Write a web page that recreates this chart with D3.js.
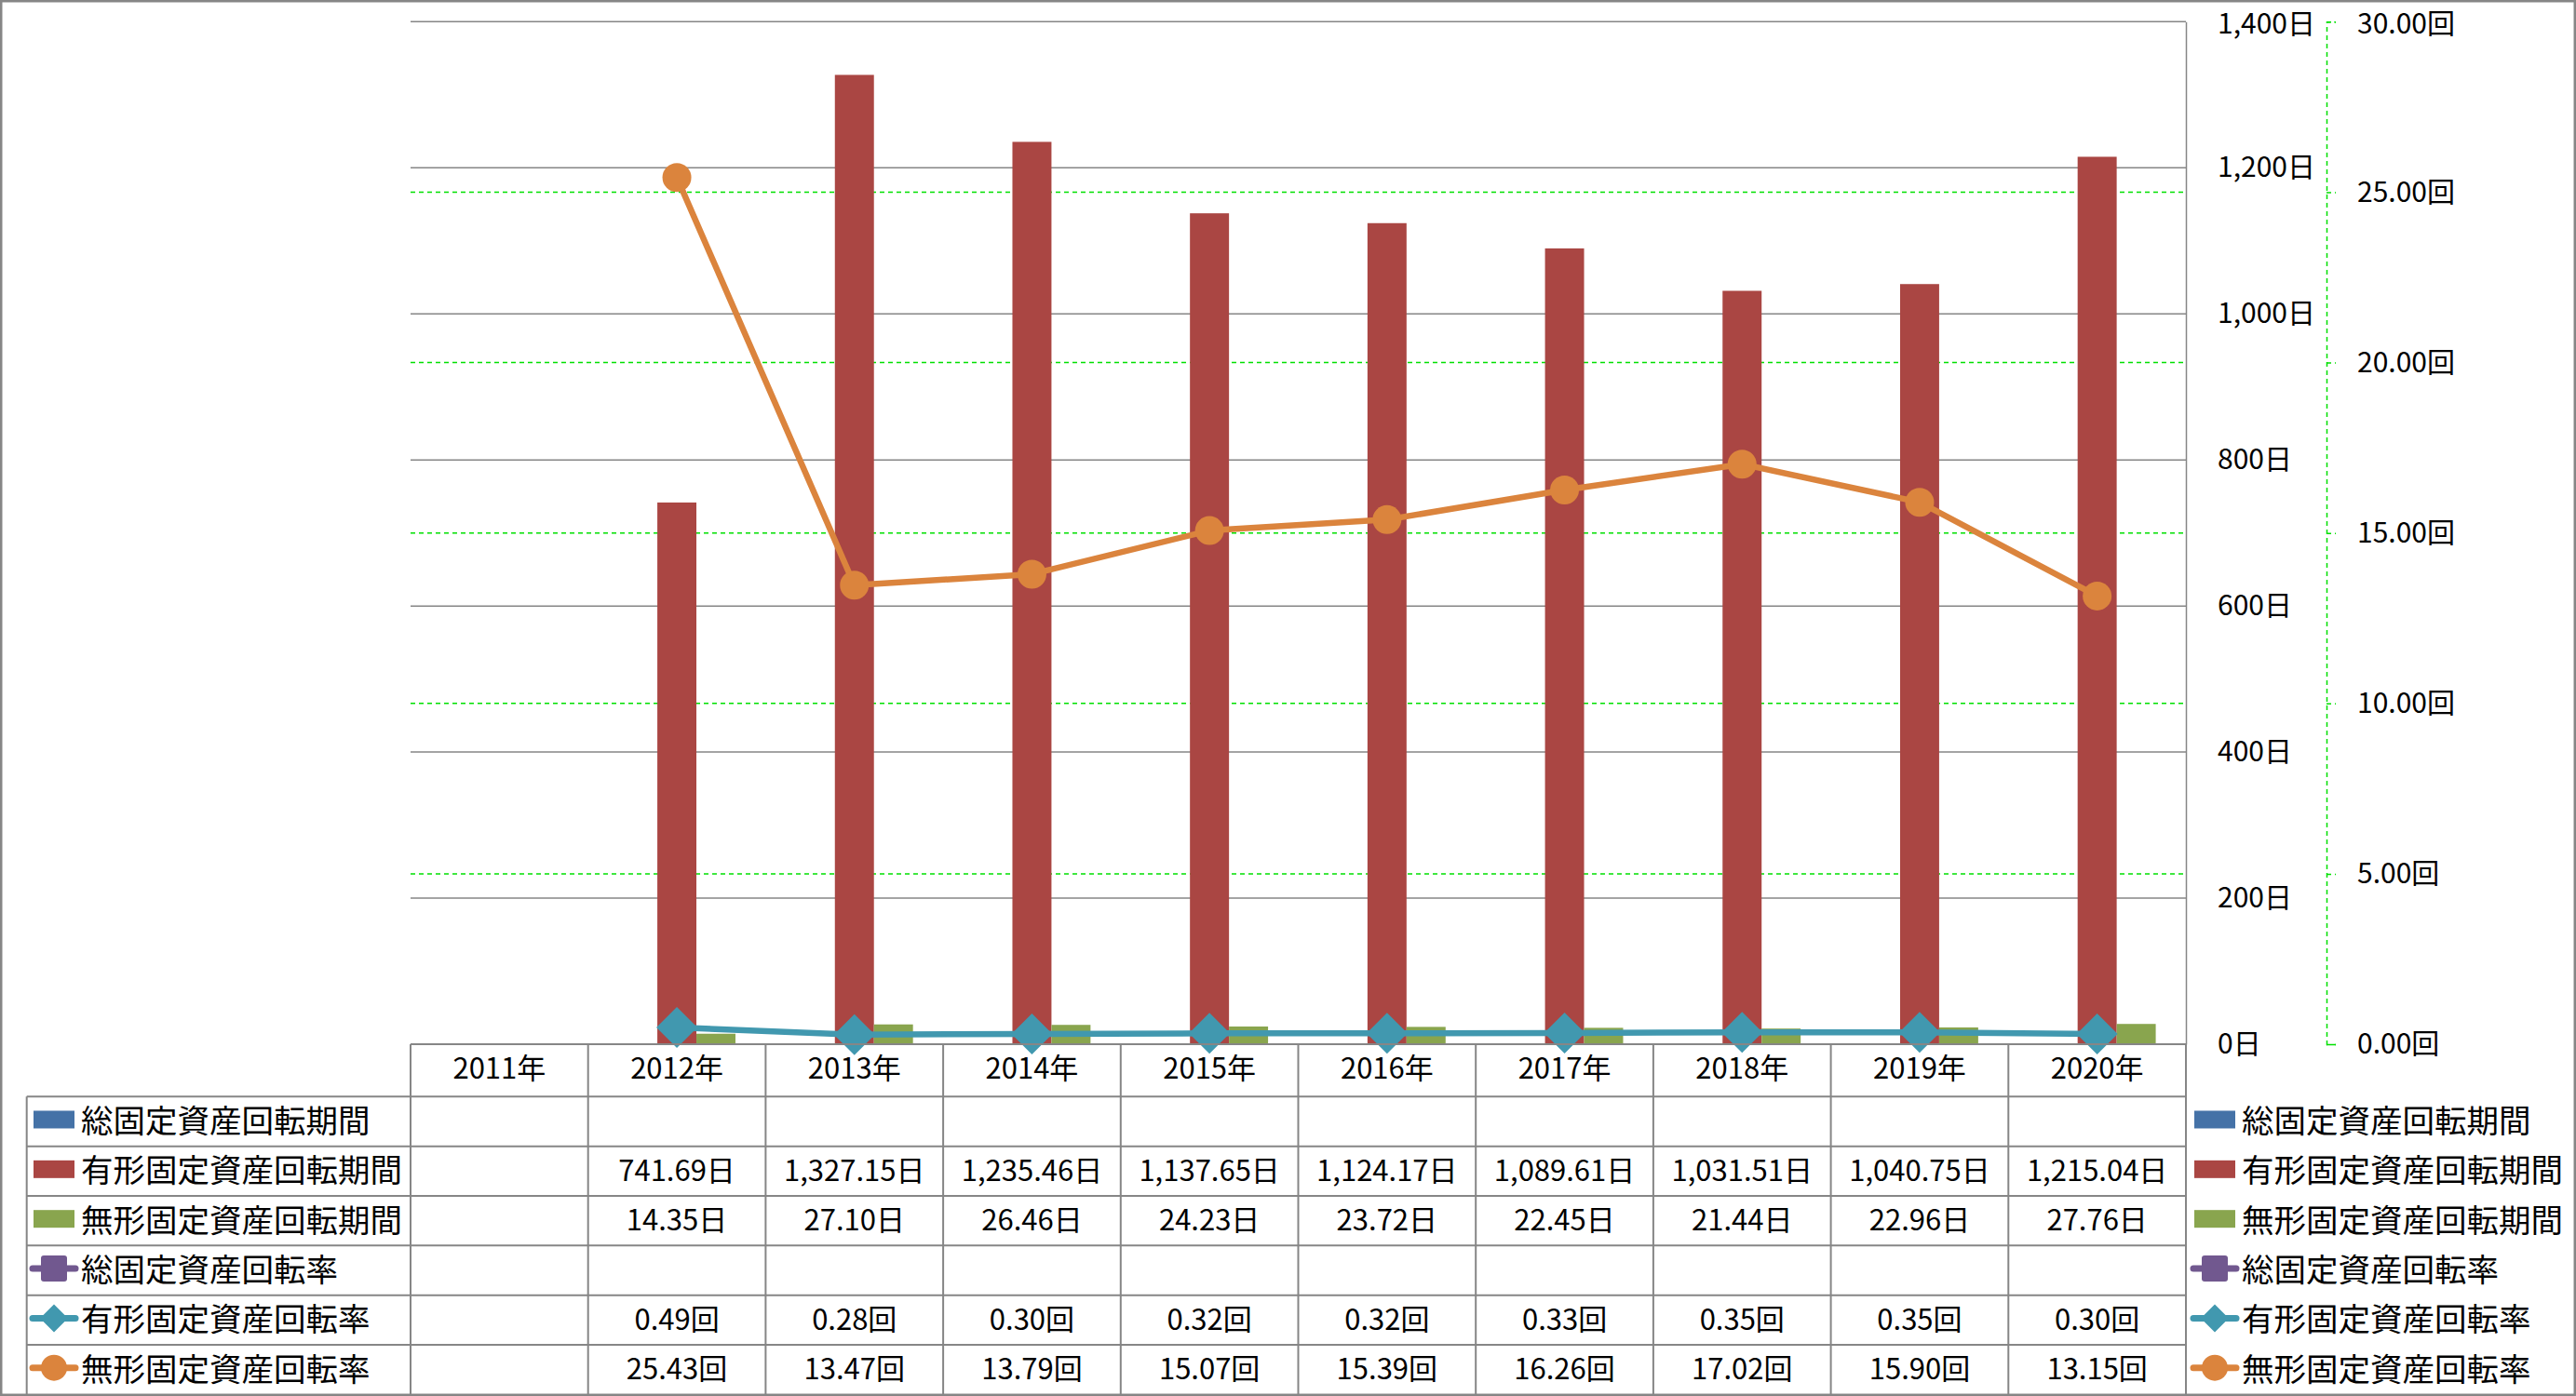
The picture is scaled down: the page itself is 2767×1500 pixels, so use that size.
<!DOCTYPE html>
<html>
<head>
<meta charset="utf-8">
<script src="https://cdn.jsdelivr.net/npm/d3@7"></script>
<style>
  html, body { margin: 0; padding: 0; background: #fff; }
  svg { display: block; }
  text { font-family: "Noto Sans CJK JP", "Noto Sans", sans-serif; fill: #000; }
</style>
</head>
<body>
<svg id="chart" width="2767" height="1500"></svg>
<script>
// ---------- data ----------
const years = ["2011年","2012年","2013年","2014年","2015年","2016年","2017年","2018年","2019年","2020年"];
const totalPeriod      = [null,null,null,null,null,null,null,null,null,null];
const tangiblePeriod   = [null,741.69,1327.15,1235.46,1137.65,1124.17,1089.61,1031.51,1040.75,1215.04];
const intangiblePeriod = [null,14.35,27.10,26.46,24.23,23.72,22.45,21.44,22.96,27.76];
const totalRate        = [null,null,null,null,null,null,null,null,null,null];
const tangibleRate     = [null,0.49,0.28,0.30,0.32,0.32,0.33,0.35,0.35,0.30];
const intangibleRate   = [null,25.43,13.47,13.79,15.07,15.39,16.26,17.02,15.90,13.15];
const seriesNames = ["総固定資産回転期間","有形固定資産回転期間","無形固定資産回転期間","総固定資産回転率","有形固定資産回転率","無形固定資産回転率"];
const primaryTicks = [0,200,400,600,800,1000,1200,1400];
const secondaryTicks = [0,5,10,15,20,25,30];

// ---------- layout ----------
const svg = d3.select("#chart");
const W = 2767, H = 1500;
const plotL = 441, plotR = 2348, plotT = 23.3, plotB = 1122;
const headerH = 56.3, rowH = 53.35, tableL = 28.7;
const gridGray = "#868686";
const textShift = -3;

const colors = ["#4572A7","#AA4643","#89A54E","#71588F","#4198AF","#DB843D"];

const x = d3.scaleBand().domain(years).range([plotL, plotR]).padding(0);
const yL = d3.scaleLinear().domain([0,1400]).range([plotB, plotT]);
const yR = d3.scaleLinear().domain([0,30]).range([plotB, plotT]);

const barSeries = [
  {name: seriesNames[0], values: totalPeriod, color: colors[0]},
  {name: seriesNames[1], values: tangiblePeriod, color: colors[1]},
  {name: seriesNames[2], values: intangiblePeriod, color: colors[2]}
];
const lineSeries = [
  {name: seriesNames[3], values: totalRate, color: colors[3], marker: "square"},
  {name: seriesNames[4], values: tangibleRate, color: colors[4], marker: "diamond"},
  {name: seriesNames[5], values: intangibleRate, color: colors[5], marker: "circle"}
];

const groupW = x.bandwidth() * 0.66;
const xs = d3.scaleBand().domain([0,1,2]).range([0, groupW]).padding(0);

// ---------- gridlines ----------
svg.append("g").selectAll("line.gg").data(secondaryTicks.filter(d => d > 0 && d < 30)).join("line")
  .attr("x1", plotL).attr("x2", plotR)
  .attr("y1", d => yR(d)).attr("y2", d => yR(d))
  .attr("stroke", "#00E000").attr("stroke-width", 1.5).attr("stroke-dasharray", "5,4");
svg.append("g").selectAll("line.pg").data(primaryTicks).join("line")
  .attr("x1", plotL).attr("x2", plotR)
  .attr("y1", d => yL(d)).attr("y2", d => yL(d))
  .attr("stroke", gridGray).attr("stroke-width", 1.5);

// ---------- bars ----------
barSeries.forEach((s, si) => {
  svg.append("g").selectAll("rect").data(years.map((y, i) => ({y, v: s.values[i]})).filter(d => d.v != null))
    .join("rect")
    .attr("x", d => x(d.y) + (x.bandwidth() - groupW) / 2 + xs(si))
    .attr("width", xs.bandwidth())
    .attr("y", d => yL(d.v))
    .attr("height", d => yL(0) - yL(d.v))
    .attr("fill", s.color);
});

// ---------- markers ----------
function drawMarker(g, type, cx, cy, size, color) {
  if (type === "diamond") {
    const h = size / 2;
    g.append("path").attr("d", `M${cx},${cy - h}L${cx + h},${cy}L${cx},${cy + h}L${cx - h},${cy}Z`).attr("fill", color);
  } else if (type === "circle") {
    g.append("circle").attr("cx", cx).attr("cy", cy).attr("r", size / 2).attr("fill", color);
  } else {
    g.append("rect").attr("x", cx - size / 2).attr("y", cy - size / 2).attr("width", size).attr("height", size)
      .attr("rx", 3).attr("fill", color);
  }
}

// ---------- lines ----------
const line = d3.line().defined(d => d.v != null).x(d => x(d.y) + x.bandwidth() / 2).y(d => yR(d.v));
lineSeries.forEach(s => {
  const pts = years.map((y, i) => ({y, v: s.values[i]}));
  const g = svg.append("g");
  g.append("path").datum(pts).attr("d", line).attr("fill", "none")
    .attr("stroke", s.color).attr("stroke-width", 6.5).attr("stroke-linejoin", "round").attr("stroke-linecap", "round");
  const size = s.marker === "diamond" ? 44 : (s.marker === "circle" ? 31 : 30);
  pts.filter(d => d.v != null).forEach(d => drawMarker(g, s.marker, x(d.y) + x.bandwidth() / 2, yR(d.v), size, s.color));
});

// ---------- axes ----------
const axL = svg.append("g").attr("transform", `translate(${plotR},0)`)
  .call(d3.axisRight(yL).tickValues(primaryTicks).tickSize(0).tickPadding(34).tickFormat(d => d3.format(",")(d) + "日"));
axL.select(".domain").attr("stroke", gridGray).attr("stroke-width", 1.5);
axL.selectAll("text").attr("font-size", 30).attr("font-family", "'Noto Sans CJK JP'").attr("fill", "#000");
axL.selectAll(".tick").filter(d => d === 1400).select("text").attr("dy", "0.4em");

const axR = svg.append("g").attr("transform", `translate(2499,0)`)
  .call(d3.axisRight(yR).tickValues(secondaryTicks).tickSize(10).tickPadding(23).tickFormat(d => d3.format(".2f")(d) + "回"));
axR.select(".domain").attr("stroke", "#00E000").attr("stroke-width", 1.5).attr("stroke-dasharray", "5,4");
axR.selectAll(".tick line").attr("stroke", "#00E000").attr("stroke-width", 1.5).attr("stroke-dasharray", "5,4");
axR.selectAll("text").attr("font-size", 30).attr("font-family", "'Noto Sans CJK JP'").attr("fill", "#000");
axR.selectAll(".tick").filter(d => d === 30).select("text").attr("dy", "0.4em");

// ---------- data table ----------
const tg = svg.append("g");
const rowTop = i => plotB + headerH + i * rowH;
const tableBottom = rowTop(6);
tg.append("line").attr("x1", plotL).attr("x2", plotR).attr("y1", plotB).attr("y2", plotB)
  .attr("stroke", gridGray).attr("stroke-width", 2);
tg.selectAll("line.h").data(d3.range(6)).join("line")
  .attr("x1", tableL).attr("x2", plotR).attr("y1", d => rowTop(d)).attr("y2", d => rowTop(d))
  .attr("stroke", gridGray).attr("stroke-width", 2);
tg.selectAll("line.v").data(d3.range(years.length + 1)).join("line")
  .attr("x1", d => plotL + d * x.bandwidth()).attr("x2", d => plotL + d * x.bandwidth())
  .attr("y1", plotB).attr("y2", tableBottom).attr("stroke", gridGray).attr("stroke-width", 2);
tg.append("line").attr("x1", tableL).attr("x2", tableL).attr("y1", rowTop(0)).attr("y2", tableBottom)
  .attr("stroke", gridGray).attr("stroke-width", 2);

// header
tg.selectAll("text.hd").data(years).join("text")
  .attr("x", d => x(d) + x.bandwidth() / 2).attr("y", plotB + headerH / 2 + textShift - 2)
  .attr("text-anchor", "middle").attr("dominant-baseline", "central").attr("font-size", 31).text(d => d);

const allSeries = [
  {...barSeries[0], kind: "bar", unit: "日"},
  {...barSeries[1], kind: "bar", unit: "日"},
  {...barSeries[2], kind: "bar", unit: "日"},
  {...lineSeries[0], kind: "line", unit: "回"},
  {...lineSeries[1], kind: "line", unit: "回"},
  {...lineSeries[2], kind: "line", unit: "回"}
];

function legendKey(g, s, cx, cy) {
  if (s.kind === "bar") {
    g.append("rect").attr("x", cx - 22).attr("y", cy - 9.5).attr("width", 44).attr("height", 19).attr("fill", s.color);
  } else {
    g.append("line").attr("x1", cx - 23).attr("x2", cx + 23).attr("y1", cy).attr("y2", cy)
      .attr("stroke", s.color).attr("stroke-width", 7).attr("stroke-linecap", "round");
    const size = s.marker === "diamond" ? 30 : 28;
    drawMarker(g, s.marker, cx, cy, size, s.color);
  }
}

allSeries.forEach((s, i) => {
  const cy = rowTop(i) + rowH / 2;
  legendKey(tg, s, 58, cy - 2);
  tg.append("text").attr("x", 87).attr("y", cy + textShift).attr("dominant-baseline", "central")
    .attr("font-size", 34.5).text(s.name);
  years.forEach((y, j) => {
    const v = s.values[j];
    if (v == null) return;
    const fmt = s.unit === "日" ? d3.format(",.2f") : d3.format(".2f");
    tg.append("text").attr("x", x(y) + x.bandwidth() / 2).attr("y", cy + textShift)
      .attr("text-anchor", "middle").attr("dominant-baseline", "central")
      .attr("font-size", 31).text(fmt(v) + s.unit);
  });
  legendKey(tg, s, 2379, cy - 2);
  tg.append("text").attr("x", 2408).attr("y", cy + textShift).attr("dominant-baseline", "central")
    .attr("font-size", 34.5).text(s.name);
});

// outer border
svg.append("rect").attr("x", 1.25).attr("y", 1.25).attr("width", W - 2.5).attr("height", H - 2.5)
  .attr("fill", "none").attr("stroke", gridGray).attr("stroke-width", 2.5);
</script>
</body>
</html>
